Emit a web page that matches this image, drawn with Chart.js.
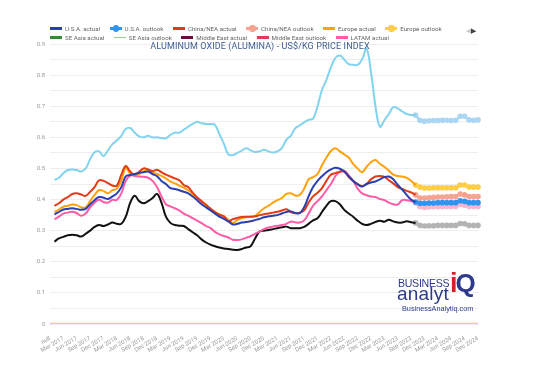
<!DOCTYPE html>
<html>
<head>
<meta charset="utf-8">
<script src="https://cdn.jsdelivr.net/npm/chart.js@4.4.1/dist/chart.umd.min.js"></script>
<style>
  html, body { margin: 0; padding: 0; background: #fff; }
  #wrap { position: relative; width: 538px; height: 380px; font-family: Roboto, "Noto Sans", sans-serif; overflow: hidden; }
  #chart { position: absolute; left: 0; top: 0; }
  #legend { position: absolute; left: 50px; top: 24px; font-size: 6.2px; color: #666; }
  #legend .row { display: flex; height: 9px; align-items: center; white-space: nowrap; }
  #legend .item { display: flex; align-items: center; margin-right: 9.5px; }
  #legend .sw { position: relative; width: 12px; height: 2.5px; margin-right: 3px; }
  #legend .sw i { position: absolute; left: 3px; top: -2px; width: 6.5px; height: 6.5px; border-radius: 50%; }
  #pager { position: absolute; left: 466px; top: 27px; font-size: 7px; line-height: 9px; }
  #title { position: absolute; left: 110px; width: 300px; top: 41px; text-align: center; font-size: 9px; color: #3f5d8f; letter-spacing: 0.1px; }
  #logo { position: absolute; left: 397px; top: 270px; color: #2d3a8c; font-family: "Liberation Sans", Arial, sans-serif; }
  #logo .b1 { position: absolute; left: 1px; top: 7px; font-size: 10.6px; letter-spacing: -0.3px; }
  #logo .b2 { position: absolute; left: 0; top: 13px; font-size: 19px; letter-spacing: 0.2px; }
  #logo .iq { position: absolute; left: 53px; top: -2px; font-weight: bold; white-space: nowrap; }
  #logo .iq .i { color: #d71f2b; font-size: 27px; }
  #logo .iq .q { color: #2d3a8c; font-size: 26px; margin-left: -2px; }
  #logo .b3 { position: absolute; left: 5px; top: 34px; font-size: 7.3px; white-space: nowrap; }
</style>
</head>
<body>
<div id="wrap">
  <canvas id="chart" width="538" height="380"></canvas>
  <div id="legend"></div>
  <div id="pager"><span style="color:#c8c8c8">&#9664;</span><span style="color:#444">&#9654;</span></div>
  <div id="title">ALUMINUM OXIDE (ALUMINA) - US$/KG PRICE INDEX</div>
  <div id="logo">
    <div class="b1">BUSINESS</div>
    <div class="b2">analyt</div>
    <div class="iq"><span class="i">i</span><span class="q">Q</span></div>
    <div class="b3">BusinessAnalytiq.com</div>
  </div>
</div>
<script>
// month labels, first slot has no date in the source chart
const monthNames = ['Jan', 'Feb', 'Mar', 'Apr', 'May', 'Jun', 'Jul', 'Aug', 'Sep', 'Oct', 'Nov', 'Dec'];
const years = [2017, 2018, 2019, 2020, 2021, 2022, 2023, 2024];
const categories = ['null'];
years.forEach(y => monthNames.forEach(m => categories.push(m + ' ' + y)));

// actual values Jan 2017 .. Oct 2023
const usaActual = [
  0.352, 0.36, 0.368, 0.37, 0.372, 0.37, 0.367, 0.37, 0.385, 0.398, 0.408, 0.406,
  0.402, 0.41, 0.42, 0.44, 0.475, 0.479, 0.482, 0.486, 0.488, 0.49, 0.482, 0.475,
  0.46, 0.45, 0.437, 0.434, 0.43, 0.425, 0.42, 0.41, 0.398, 0.385, 0.375, 0.365,
  0.355, 0.345, 0.338, 0.33, 0.32, 0.322, 0.326, 0.328, 0.33, 0.334, 0.338, 0.343,
  0.346, 0.348, 0.35, 0.355, 0.36, 0.362, 0.357, 0.356, 0.375, 0.41, 0.44, 0.46,
  0.475, 0.488, 0.497, 0.502, 0.499, 0.49, 0.475, 0.46, 0.449, 0.442, 0.45, 0.455,
  0.458, 0.465, 0.472, 0.474, 0.465, 0.447, 0.432, 0.415, 0.4, 0.392
];
const chinaActual = [
  0.38, 0.388, 0.4, 0.408, 0.418, 0.42, 0.416, 0.412, 0.425, 0.44, 0.462, 0.46,
  0.453, 0.445, 0.445, 0.48, 0.508, 0.49, 0.48, 0.489, 0.5, 0.497, 0.492, 0.496,
  0.488, 0.48, 0.474, 0.468, 0.462, 0.447, 0.44, 0.422, 0.407, 0.395, 0.383, 0.371,
  0.36, 0.351, 0.346, 0.33, 0.337, 0.341, 0.344, 0.345, 0.345, 0.346, 0.35, 0.353,
  0.355, 0.358, 0.361, 0.365, 0.369, 0.36, 0.356, 0.358, 0.365, 0.39, 0.41, 0.422,
  0.437, 0.46, 0.48, 0.485, 0.489, 0.49, 0.472, 0.46, 0.45, 0.443, 0.45, 0.465,
  0.474, 0.476, 0.473, 0.462, 0.452, 0.44, 0.434, 0.428, 0.423, 0.415
];
const europeActual = [
  0.36, 0.368, 0.377, 0.38, 0.384, 0.382, 0.375, 0.375, 0.395, 0.415, 0.43, 0.428,
  0.42, 0.43, 0.435, 0.46, 0.502, 0.483, 0.479, 0.482, 0.49, 0.495, 0.488, 0.482,
  0.476, 0.468, 0.458, 0.452, 0.445, 0.438, 0.43, 0.418, 0.405, 0.393, 0.38, 0.37,
  0.36, 0.353, 0.346, 0.335, 0.325, 0.334, 0.34, 0.343, 0.345, 0.347, 0.36, 0.372,
  0.38, 0.39, 0.398, 0.405, 0.418, 0.42, 0.413, 0.415, 0.435, 0.465, 0.472, 0.482,
  0.51, 0.535, 0.556, 0.565, 0.555, 0.545, 0.535, 0.515, 0.5, 0.488, 0.505, 0.52,
  0.527, 0.515, 0.505, 0.493, 0.48, 0.476, 0.474, 0.47, 0.46, 0.447
];
const latamActual = [
  0.337, 0.345, 0.355, 0.358, 0.361, 0.356, 0.348, 0.355, 0.375, 0.39, 0.399, 0.392,
  0.39, 0.399, 0.399, 0.42, 0.46, 0.477, 0.476, 0.474, 0.473, 0.47, 0.46, 0.44,
  0.41, 0.385, 0.378, 0.372, 0.365, 0.355, 0.348, 0.34, 0.332, 0.324, 0.315, 0.308,
  0.296, 0.288, 0.283, 0.278, 0.271, 0.27, 0.272, 0.277, 0.282, 0.29, 0.297, 0.305,
  0.31, 0.313, 0.316, 0.318, 0.322, 0.329, 0.327, 0.326, 0.333, 0.355, 0.38, 0.395,
  0.41, 0.43, 0.45, 0.475, 0.49, 0.493, 0.478, 0.46, 0.435, 0.42, 0.414, 0.41,
  0.408, 0.402, 0.398, 0.39, 0.385, 0.384, 0.398, 0.398, 0.395, 0.39
];
const otherActualA = [
  0.463, 0.47, 0.485, 0.495, 0.497, 0.495, 0.49, 0.5, 0.53, 0.552, 0.555, 0.54,
  0.558, 0.578, 0.59, 0.605, 0.627, 0.63, 0.615, 0.603, 0.6, 0.605, 0.6, 0.6,
  0.598, 0.597, 0.608, 0.615, 0.615, 0.625, 0.634, 0.643, 0.65, 0.645, 0.643, 0.643,
  0.64, 0.61, 0.58, 0.545, 0.543, 0.55, 0.557, 0.565, 0.558, 0.553, 0.555, 0.56,
  0.555, 0.551, 0.555, 0.565, 0.592, 0.605, 0.629, 0.638, 0.648, 0.656, 0.66, 0.7,
  0.752, 0.785, 0.825, 0.855, 0.863, 0.85, 0.835, 0.833, 0.833, 0.85, 0.885, 0.81,
  0.7, 0.634, 0.655, 0.675, 0.697, 0.693, 0.683, 0.675, 0.672, 0.672
];
const otherActualB = [
  0.265, 0.275, 0.28, 0.285, 0.287, 0.285, 0.281, 0.29, 0.3, 0.312, 0.318, 0.315,
  0.32, 0.326, 0.322, 0.322, 0.345, 0.39, 0.412, 0.395, 0.388, 0.395, 0.405, 0.418,
  0.39, 0.345, 0.325, 0.318, 0.316, 0.315, 0.305, 0.295, 0.285, 0.272, 0.262, 0.255,
  0.25, 0.246, 0.243, 0.241, 0.239, 0.238, 0.241, 0.246, 0.25, 0.275, 0.297, 0.3,
  0.302, 0.305, 0.308, 0.311, 0.313, 0.308, 0.308, 0.308, 0.312, 0.322, 0.333, 0.34,
  0.36, 0.38, 0.395, 0.395, 0.385, 0.367, 0.355, 0.345, 0.332, 0.322, 0.318, 0.322,
  0.328, 0.332, 0.329, 0.335, 0.33, 0.326, 0.326, 0.33, 0.327, 0.325
];

// outlook values Oct 2023 .. Dec 2024
const usaOutlook = [0.392, 0.388, 0.388, 0.389, 0.389, 0.39, 0.39, 0.39, 0.39, 0.39, 0.396, 0.394, 0.39, 0.39, 0.39];
const chinaOutlook = [0.415, 0.405, 0.405, 0.406, 0.407, 0.408, 0.408, 0.409, 0.41, 0.41, 0.418, 0.415, 0.41, 0.41, 0.41];
const europeOutlook = [0.447, 0.44, 0.437, 0.437, 0.438, 0.438, 0.438, 0.438, 0.438, 0.438, 0.447, 0.447, 0.44, 0.44, 0.44];
const latamOutlook = [0.39, 0.377, 0.375, 0.376, 0.377, 0.377, 0.378, 0.378, 0.378, 0.378, 0.384, 0.382, 0.378, 0.378, 0.378];
const otherOutlookA = [0.672, 0.655, 0.652, 0.653, 0.654, 0.654, 0.655, 0.655, 0.654, 0.655, 0.668, 0.668, 0.656, 0.655, 0.656];
const otherOutlookB = [0.325, 0.317, 0.315, 0.316, 0.316, 0.317, 0.317, 0.317, 0.317, 0.317, 0.323, 0.322, 0.317, 0.317, 0.317];

// flat series sitting on the axis
const baseLine = [
  0, 0, 0, 0, 0, 0, 0, 0, 0, 0, 0, 0, 0, 0, 0, 0, 0, 0, 0, 0,
  0, 0, 0, 0, 0, 0, 0, 0, 0, 0, 0, 0, 0, 0, 0, 0, 0, 0, 0, 0,
  0, 0, 0, 0, 0, 0, 0, 0, 0, 0, 0, 0, 0, 0, 0, 0, 0, 0, 0, 0,
  0, 0, 0, 0, 0, 0, 0, 0, 0, 0, 0, 0, 0, 0, 0, 0, 0, 0, 0, 0,
  0, 0, 0, 0, 0, 0, 0, 0, 0, 0, 0, 0, 0, 0, 0, 0, 0
];

const yTicks = [0, 0.1, 0.2, 0.3, 0.4, 0.5, 0.6, 0.7, 0.8, 0.9];

const N = categories.length;
function padActual(vals) {
  const out = [null].concat(vals);
  while (out.length < N) out.push(null);
  return out;
}
function padOutlook(vals) {
  const out = [];
  while (out.length < N - vals.length) out.push(null);
  return out.concat(vals);
}

function actualSet(label, color, vals, inLegend) {
  return {
    label: label, data: padActual(vals), borderColor: color, backgroundColor: color,
    borderWidth: 2, pointRadius: 0, tension: 0.4, inLegend: inLegend, kind: 'line'
  };
}
function outlookSet(label, color, vals, inLegend) {
  return {
    label: label, data: padOutlook(vals), borderColor: color, backgroundColor: color,
    borderWidth: 2.5, pointRadius: 2.8, pointBorderWidth: 0, pointBackgroundColor: color,
    tension: 0.3, inLegend: inLegend, kind: 'dot'
  };
}

const datasets = [
  actualSet('U.S.A. actual', '#2c3fae', usaActual, true),
  outlookSet('U.S.A. outlook', '#2f93f0', usaOutlook, true),
  actualSet('China/NEA actual', '#e43b16', chinaActual, true),
  outlookSet('China/NEA outlook', '#f8a38f', chinaOutlook, true),
  actualSet('Europe actual', '#ffa10a', europeActual, true),
  outlookSet('Europe outlook', '#ffcd45', europeOutlook, true),
  { label: 'SE Asia actual', data: [], borderColor: '#2e8f35', backgroundColor: '#2e8f35', borderWidth: 2, inLegend: true, kind: 'line' },
  { label: 'SE Asia outlook', data: [], borderColor: '#8fd08f', backgroundColor: '#8fd08f', borderWidth: 1, inLegend: true, kind: 'thin' },
  { label: 'Middle East actual', data: [], borderColor: '#6b0d3c', backgroundColor: '#6b0d3c', borderWidth: 2, inLegend: true, kind: 'line' },
  { label: 'Middle East outlook', data: [], borderColor: '#e23a5c', backgroundColor: '#e23a5c', borderWidth: 2, inLegend: true, kind: 'line' },
  actualSet('LATAM actual', '#ff5ba6', latamActual, true),
  outlookSet('LATAM outlook', '#f6b7cd', latamOutlook, false),
  actualSet('Series A actual', '#82d4ee', otherActualA, false),
  outlookSet('Series A outlook', '#aad6f4', otherOutlookA, false),
  actualSet('Series B actual', '#111111', otherActualB, false),
  outlookSet('Series B outlook', '#b4b4b4', otherOutlookB, false),
  { label: 'Base', data: baseLine, borderColor: '#e9d27e', borderWidth: 2.5, pointRadius: 0, inLegend: false, kind: 'line' }
];

const chart = new Chart(document.getElementById('chart'), {
  type: 'line',
  data: { labels: categories, datasets: datasets },
  options: {
    responsive: false,
    animation: false,
    layout: { padding: { left: 0, right: 60, top: 44, bottom: 0 } },
    plugins: { legend: { display: false }, tooltip: { enabled: false } },
    scales: {
      x: {
        afterFit: s => { s.height = 56; },
        grid: { display: false },
        border: { display: false },
        ticks: {
          autoSkip: false, maxRotation: 30, minRotation: 30, padding: 3,
          color: '#999', font: { family: 'Roboto', size: 6 },
          callback: (v, i) => (i % 3 === 0 ? categories[i] : null)
        }
      },
      y: {
        min: 0, max: 0.9,
        afterFit: s => { s.width = 50; },
        grid: { color: '#eeeeee', drawTicks: false },
        border: { display: false },
        ticks: {
          stepSize: 0.05, padding: 5, color: '#999', font: { family: 'Roboto', size: 6 },
          callback: v => {
            const t = yTicks.find(k => Math.abs(k - v) < 1e-6);
            return t === undefined ? '' : String(t);
          }
        }
      }
    }
  }
});

// html legend built from the chart datasets
const legendEl = document.getElementById('legend');
const shown = chart.data.datasets.filter(d => d.inLegend);
[shown.slice(0, 6), shown.slice(6)].forEach(items => {
  const row = document.createElement('div');
  row.className = 'row';
  items.forEach(d => {
    const item = document.createElement('div');
    item.className = 'item';
    const sw = document.createElement('span');
    sw.className = 'sw';
    sw.style.background = d.borderColor;
    if (d.kind === 'thin') { sw.style.height = '1px'; }
    if (d.kind === 'dot') {
      const dot = document.createElement('i');
      dot.style.background = d.borderColor;
      sw.appendChild(dot);
    }
    item.appendChild(sw);
    item.appendChild(document.createTextNode(d.label));
    row.appendChild(item);
  });
  legendEl.appendChild(row);
});
</script>
</body>
</html>
